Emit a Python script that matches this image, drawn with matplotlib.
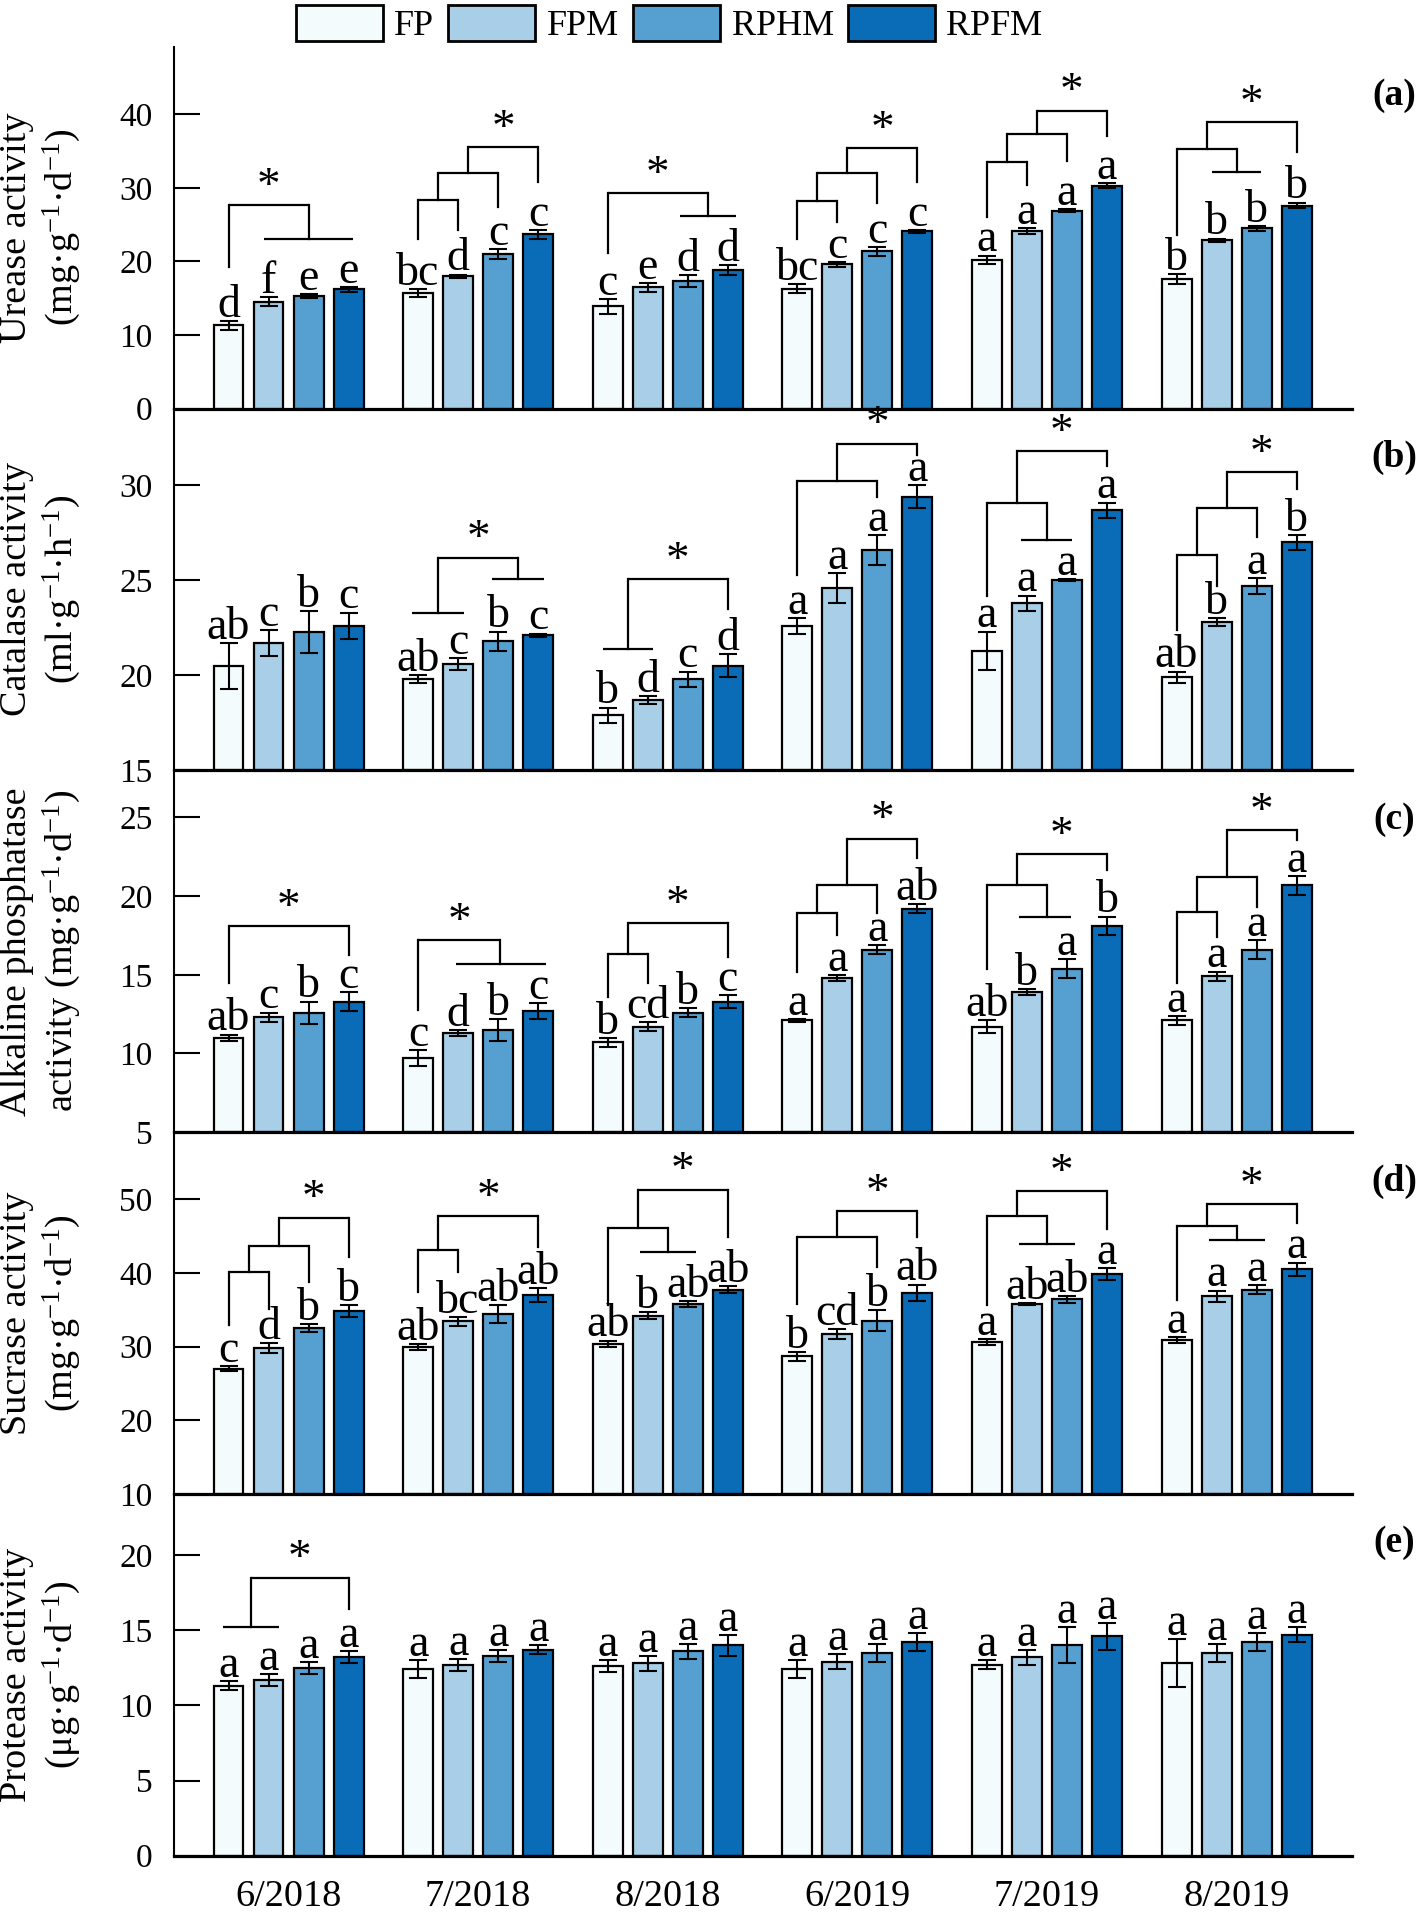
import matplotlib
matplotlib.use("Agg")
import matplotlib.pyplot as plt
from matplotlib.patches import Patch
import numpy as np

plt.rcParams['font.family'] = ['Liberation Serif', 'DejaVu Serif']
plt.rcParams['mathtext.fontset'] = 'custom'
plt.rcParams['mathtext.rm'] = 'Liberation Serif'
plt.rcParams['mathtext.it'] = 'Liberation Serif:italic'
plt.rcParams['mathtext.bf'] = 'Liberation Serif:bold'

# ---------------- data ----------------
dates = ['6/2018', '7/2018', '8/2018', '6/2019', '7/2019', '8/2019']
treatments = ['FP', 'FPM', 'RPHM', 'RPFM']
colors = ['#F4FBFD', '#A8CFE7', '#569FD1', '#0A6BB6']

urease_mean = [[11.3, 15.7, 13.9, 16.3, 20.2, 17.6],
               [14.5, 18.0, 16.5, 19.6, 24.1, 22.9],
               [15.3, 21.0, 17.3, 21.4, 26.9, 24.5],
               [16.2, 23.7, 18.8, 24.1, 30.3, 27.6]]
urease_err = [[0.6, 0.5, 1.0, 0.6, 0.6, 0.7],
              [0.6, 0.2, 0.6, 0.3, 0.4, 0.2],
              [0.3, 0.7, 0.8, 0.6, 0.2, 0.3],
              [0.3, 0.6, 0.7, 0.2, 0.3, 0.4]]
urease_letters = [['d', 'bc', 'c', 'bc', 'a', 'b'],
                  ['f', 'd', 'e', 'c', 'a', 'b'],
                  ['e', 'c', 'd', 'c', 'a', 'b'],
                  ['e', 'c', 'd', 'c', 'a', 'b']]

catalase_mean = [[20.5, 19.8, 17.9, 22.6, 21.3, 19.9],
                 [21.7, 20.6, 18.7, 24.6, 23.8, 22.8],
                 [22.3, 21.8, 19.8, 26.6, 25.0, 24.7],
                 [22.6, 22.1, 20.5, 29.4, 28.7, 27.0]]
catalase_err = [[1.2, 0.2, 0.4, 0.4, 1.0, 0.3],
                [0.7, 0.3, 0.2, 0.8, 0.4, 0.2],
                [1.1, 0.5, 0.4, 0.8, 0.05, 0.4],
                [0.7, 0.1, 0.6, 0.6, 0.4, 0.4]]
catalase_letters = [['ab', 'ab', 'b', 'a', 'a', 'ab'],
                    ['c', 'c', 'd', 'a', 'a', 'b'],
                    ['b', 'b', 'c', 'a', 'a', 'a'],
                    ['c', 'c', 'd', 'a', 'a', 'b']]

alp_mean = [[11.0, 9.7, 10.7, 12.1, 11.7, 12.1],
            [12.3, 11.3, 11.7, 14.8, 13.9, 14.9],
            [12.6, 11.5, 12.6, 16.6, 15.4, 16.6],
            [13.3, 12.7, 13.3, 19.2, 18.1, 20.7]]
alp_err = [[0.2, 0.5, 0.3, 0.1, 0.4, 0.3],
           [0.3, 0.2, 0.3, 0.2, 0.2, 0.3],
           [0.7, 0.7, 0.3, 0.3, 0.6, 0.6],
           [0.6, 0.5, 0.4, 0.3, 0.6, 0.6]]
alp_letters = [['ab', 'c', 'b', 'a', 'ab', 'a'],
               ['c', 'd', 'cd', 'a', 'b', 'a'],
               ['b', 'b', 'b', 'a', 'a', 'a'],
               ['c', 'c', 'c', 'ab', 'b', 'a']]

sucrase_mean = [[27.0, 29.9, 30.4, 28.7, 30.6, 30.9],
                [29.8, 33.4, 34.2, 31.7, 35.8, 36.8],
                [32.5, 34.4, 35.8, 33.5, 36.4, 37.7],
                [34.8, 37.0, 37.7, 37.3, 39.8, 40.5]]
sucrase_err = [[0.3, 0.4, 0.4, 0.6, 0.4, 0.4],
               [0.7, 0.6, 0.5, 0.7, 0.1, 0.8],
               [0.5, 1.2, 0.4, 1.4, 0.5, 0.6],
               [0.8, 0.9, 0.5, 1.1, 0.8, 0.9]]
sucrase_letters = [['c', 'ab', 'ab', 'b', 'a', 'a'],
                   ['d', 'bc', 'b', 'cd', 'ab', 'a'],
                   ['b', 'ab', 'ab', 'b', 'ab', 'a'],
                   ['b', 'ab', 'ab', 'ab', 'a', 'a']]

protease_mean = [[11.3, 12.4, 12.6, 12.4, 12.7, 12.8],
                 [11.7, 12.7, 12.8, 12.9, 13.2, 13.5],
                 [12.5, 13.3, 13.6, 13.5, 14.0, 14.2],
                 [13.2, 13.7, 14.0, 14.2, 14.6, 14.7]]
protease_err = [[0.3, 0.6, 0.4, 0.6, 0.3, 1.6],
                [0.4, 0.4, 0.5, 0.5, 0.5, 0.6],
                [0.4, 0.4, 0.5, 0.6, 1.2, 0.6],
                [0.4, 0.3, 0.7, 0.6, 0.9, 0.5]]
protease_letters = [['a'] * 6 for _ in range(4)]

# significance brackets per date group:
# (left bar, right bar, height, left-leg lower end, right-leg lower end)
urease_brackets = [
    [(0, 2, 27.7, 19.3, 23.1), (0.88, 3.12, 23.1, None, None)],
    [(0, 1, 28.3, 23.1, 24.3), (0.5, 2, 32.0, 28.3, 27.4), (1.25, 3, 35.5, 32.0, 30.8)],
    [(0, 2.5, 29.3, 21.1, 26.2), (1.8, 3.2, 26.2, None, None)],
    [(0, 1, 28.2, 23.1, 25.4), (0.5, 2, 32.0, 28.2, 27.9), (1.25, 3, 35.4, 32.0, 30.8)],
    [(0, 1, 33.5, 26.1, 30.4), (0.5, 2, 37.3, 33.5, 33.6), (1.25, 3, 40.5, 37.3, 37.0)],
    [(0, 1.5, 35.3, 23.6, 32.1), (0.88, 2.12, 32.1, None, None), (0.75, 3, 38.9, 35.3, 34.9)],
]
catalase_brackets = [
    [],
    [(-0.15, 1.15, 23.3, None, None), (1.85, 3.15, 25.07, None, None), (0.5, 2.5, 26.2, 23.3, 25.07)],
    [(-0.12, 1.12, 21.4, None, None), (0.5, 3, 25.07, 21.4, 23.5)],
    [(0, 2, 30.25, 25.3, 29.4), (1, 3, 32.2, 30.25, 31.6)],
    [(0, 1.5, 29.1, 24.2, 27.1), (0.85, 2.12, 27.1, None, None), (0.75, 3, 31.8, 29.1, 31.0)],
    [(0, 1, 26.35, 22.4, 24.7), (0.5, 2, 28.8, 26.35, 27.3), (1.25, 3, 30.7, 28.8, 29.8)],
]
alp_brackets = [
    [(0, 3, 18.1, 14.45, 16.25)],
    [(0, 2.05, 17.2, 12.75, 15.66), (0.95, 3.2, 15.66, None, None)],
    [(0, 1, 16.3, 13.6, 14.45), (0.5, 3, 18.3, 16.3, 16.1)],
    [(0, 1, 18.9, 15.2, 17.5), (0.5, 2, 20.7, 18.9, 18.9), (1.25, 3, 23.65, 20.7, 22.4)],
    [(0, 1.5, 20.7, 15.4, 18.7), (0.8, 2.1, 18.7, None, None), (0.75, 3, 22.65, 20.7, 21.65)],
    [(0, 1, 19.0, 14.45, 17.4), (0.5, 2, 21.2, 19.0, 19.3), (1.25, 3, 24.2, 21.2, 23.6)],
]
sucrase_brackets = [
    [(0, 1, 40.1, 32.9, 35.1), (0.5, 2, 43.6, 40.1, 38.75), (1.25, 3, 47.5, 43.6, 42.15)],
    [(0, 1, 43.15, 37.4, 40.1), (0.5, 3, 47.7, 43.15, 43.5)],
    [(0, 1.5, 46.1, 35.6, 42.8), (0.8, 2.2, 42.8, None, None), (0.75, 3, 51.3, 46.1, 44.9)],
    [(0, 2, 44.9, 35.8, 40.8), (1, 3, 48.4, 44.9, 44.9)],
    [(0, 1.5, 47.7, 35.6, 43.9), (0.8, 2.2, 43.9, None, None), (0.75, 3, 51.1, 47.7, 46.0)],
    [(0, 1.5, 46.4, 36.3, 44.4), (0.8, 2.2, 44.4, None, None), (0.75, 3, 49.3, 46.4, 46.7)],
]
protease_brackets = [
    [(-0.15, 1.25, 15.2, None, None), (0.55, 3, 18.5, 15.2, 16.4)],
    [], [], [], [], [],
]

panels = [
    dict(mean=urease_mean, err=urease_err, letters=urease_letters, brackets=urease_brackets,
         ylim=(0, 49.2), ticks=[0, 10, 20, 30, 40], tag='(a)',
         ylabel='Urease activity\n(mg·g$^{\\mathregular{-1}}$·d$^{\\mathregular{-1}}$)'),
    dict(mean=catalase_mean, err=catalase_err, letters=catalase_letters, brackets=catalase_brackets,
         ylim=(15, 34.05), ticks=[15, 20, 25, 30], tag='(b)',
         ylabel='Catalase activity\n(ml·g$^{\\mathregular{-1}}$·h$^{\\mathregular{-1}}$)'),
    dict(mean=alp_mean, err=alp_err, letters=alp_letters, brackets=alp_brackets,
         ylim=(5, 28.0), ticks=[5, 10, 15, 20, 25], tag='(c)',
         ylabel='Alkaline phosphatase\nactivity (mg·g$^{\\mathregular{-1}}$·d$^{\\mathregular{-1}}$)'),
    dict(mean=sucrase_mean, err=sucrase_err, letters=sucrase_letters, brackets=sucrase_brackets,
         ylim=(10, 59.1), ticks=[10, 20, 30, 40, 50], tag='(d)',
         ylabel='Sucrase activity\n(mg·g$^{\\mathregular{-1}}$·d$^{\\mathregular{-1}}$)'),
    dict(mean=protease_mean, err=protease_err, letters=protease_letters, brackets=protease_brackets,
         ylim=(0, 24.07), ticks=[0, 5, 10, 15, 20], tag='(e)',
         ylabel='Protease activity\n(μg·g$^{\\mathregular{-1}}$·d$^{\\mathregular{-1}}$)'),
]

# ---------------- layout ----------------
W, H = 1416, 1913
fig = plt.figure(figsize=(W / 100, H / 100), dpi=100)
left_px, right_px = 174, 1352
top_px, bottom_px = 46.7, 1855.7
ph = (bottom_px - top_px) / 5

bar_w = 0.158
bar_step = 0.211
group_x = np.arange(len(dates))
lw_line = 1.6

for k, p in enumerate(panels):
    ax_top = top_px + k * ph
    ax = fig.add_axes([left_px / W, 1 - (ax_top + ph) / H, (right_px - left_px) / W, ph / H])
    for i in range(4):
        xs = group_x + (i - 1.5) * bar_step
        ax.bar(xs, np.array(p['mean'][i]) - p['ylim'][0], bottom=p['ylim'][0], width=bar_w,
               color=colors[i], edgecolor='black', linewidth=1.6, zorder=2)
        ax.errorbar(xs, p['mean'][i], yerr=p['err'][i], fmt='none', ecolor='black',
                    elinewidth=1.5, capsize=6.5, capthick=1.5, zorder=3)
        for g in range(len(dates)):
            ax.annotate(p['letters'][i][g], (xs[g], p['mean'][i][g] + p['err'][i][g]),
                        xytext=(0, 3), textcoords='offset points', ha='center', va='baseline',
                        fontsize=33, zorder=4)
    # brackets
    for g, blist in enumerate(p['brackets']):
        top_b = None
        for (xl, xr, yh, yl, yr) in blist:
            x0 = g + (xl - 1.5) * bar_step
            x1 = g + (xr - 1.5) * bar_step
            ax.plot([x0, x1], [yh, yh], color='black', lw=lw_line, solid_capstyle='butt', zorder=4)
            if yl is not None:
                ax.plot([x0, x0], [yh, yl], color='black', lw=lw_line, zorder=4)
            if yr is not None:
                ax.plot([x1, x1], [yh, yr], color='black', lw=lw_line, zorder=4)
            if top_b is None or yh > top_b[2]:
                top_b = (x0, x1, yh)
        if top_b is not None:
            ax.annotate('*', ((top_b[0] + top_b[1]) / 2, top_b[2]), xytext=(0, 4.5),
                        textcoords='offset points', ha='center', va='baseline', fontsize=34)

    ax.set_xlim(-0.604, 5.609)
    ax.set_ylim(*p['ylim'])
    ax.set_yticks(p['ticks'])
    ax.tick_params(axis='y', direction='in', length=18.5, width=1.5, pad=15.5, labelsize=24)
    ax.spines['top'].set_visible(False)
    ax.spines['right'].set_visible(False)
    ax.spines['left'].set_linewidth(1.5)
    ax.spines['bottom'].set_linewidth(2.3)
    ax.set_xticks(group_x)
    if k == 4:
        ax.set_xticklabels(dates)
        ax.tick_params(axis='x', length=0, pad=17, labelsize=27.5)
    else:
        ax.set_xticklabels([])
        ax.tick_params(axis='x', length=0)
    ax.set_ylabel(p['ylabel'], fontsize=27.5, linespacing=1.2)
    ax.yaxis.set_label_coords(-0.0772, 0.5)
    ax.text(1.036, 0.865, p['tag'], transform=ax.transAxes, ha='center', va='center',
            fontsize=27, fontweight='bold')
    ax.set_facecolor('none')

handles = [Patch(facecolor=c, edgecolor='black', linewidth=2) for c in colors]
fig.legend(handles, treatments, loc='center', bbox_to_anchor=(0.4725, 0.98745), ncol=4,
           frameon=False, fontsize=26, handlelength=2.41, handleheight=1.16,
           handletextpad=0.32, columnspacing=0.39, borderpad=0, borderaxespad=0)

fig.savefig('out.png', dpi=100)
